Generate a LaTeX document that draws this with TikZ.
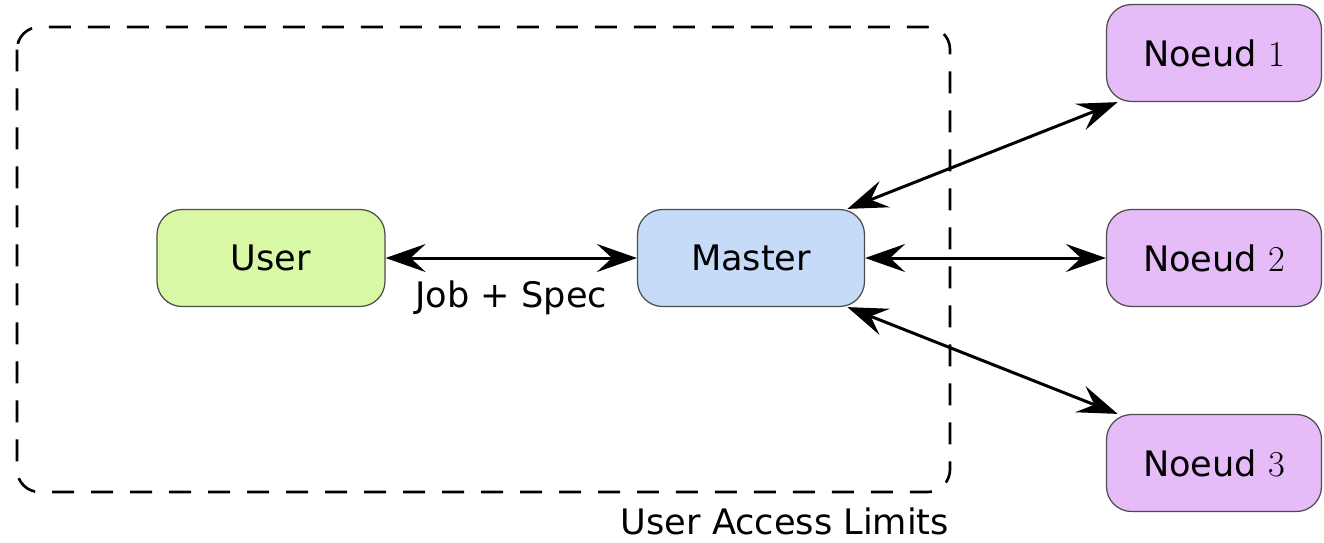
\documentclass[tikz,border=0pt]{standalone}
\usepackage{fontspec}
\setmainfont{DejaVu Sans}
\usepackage{xcolor}
\usepackage{tikz}
\usetikzlibrary{arrows.meta}

\definecolor{usergreen}{RGB}{216,248,166}
\definecolor{masterblue}{RGB}{198,219,248}
\definecolor{noeudviolet}{RGB}{229,188,248}

\begin{document}
\begin{tikzpicture}[x=0.02cm, y=-0.02cm,
    box/.style={draw=black!70, line width=0.7pt, rounded corners=0.5cm,
      minimum height=1.94cm, font=\fontsize{20}{24}\selectfont},
    tip/.tip={Stealth[length=0.8cm, width=0.56cm, inset=0.3cm]},
    link/.style={line width=1.7pt, tip-tip}]
          \useasboundingbox (0,0) rectangle (1324,542);

          % access limits
          \draw [line width=1.5pt, dash pattern=on 0.44cm off 0.34cm, rounded corners=0.45cm]
            (17,27) rectangle (950,492);
          \node[font=\fontsize{20}{24}\selectfont] (limits) at (785,521) {User Access Limits};

          \node[box, fill=usergreen, minimum width=4.56cm] (user) at (271,258) {User};
          \node[box, fill=masterblue, minimum width=4.54cm] (master) at (751,258) {Master};
          \foreach \y [count=\i from 1] in {53, 258, 463}{%
            \node[box, fill=noeudviolet, minimum width=4.3cm] (n\i) at (1214,\y) {Noeud $\i$};
          }

          \draw [link] (user.east) -- node[below=0.3cm, font=\fontsize{20}{24}\selectfont] (job) {Job + Spec} (master.west);
          \draw [link] (master.27) -- (n1.207);
          \draw [link] (master.east) -- (n2.west);
          \draw [link] (master.-27) -- (n3.153);
        \end{tikzpicture}
\end{document}
